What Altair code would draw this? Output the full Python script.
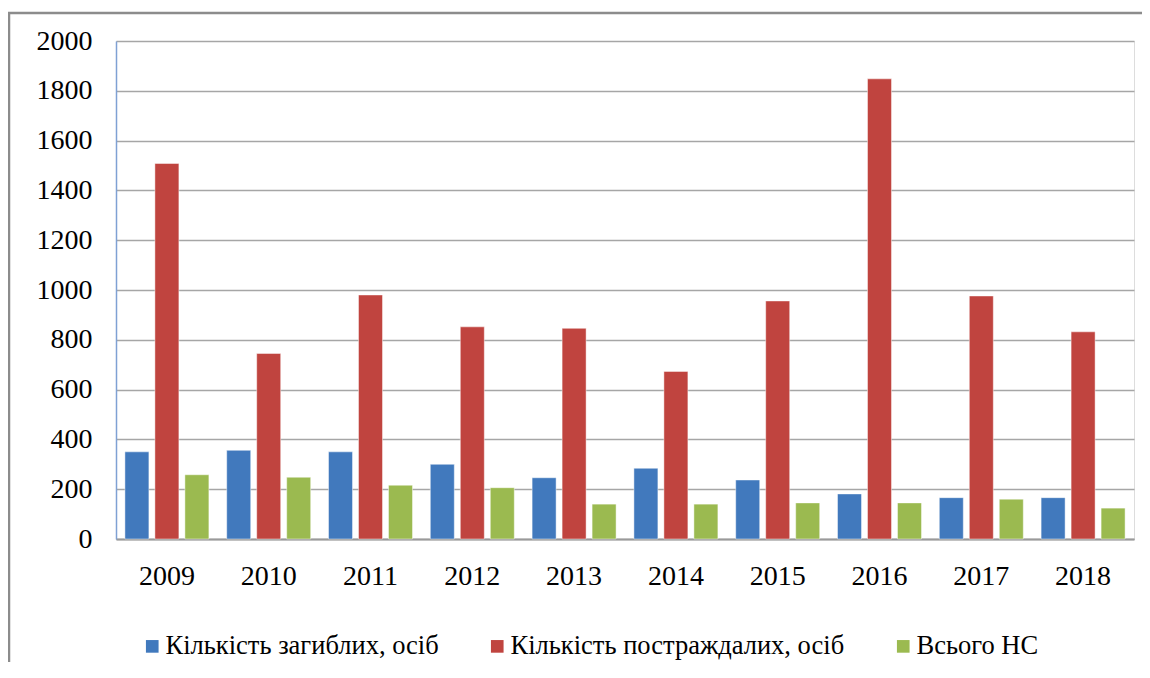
import altair as alt
import pandas as pd

years = ["2009", "2010", "2011", "2012", "2013", "2014", "2015", "2016", "2017", "2018"]
series = ["Кількість загиблих, осіб", "Кількість постраждалих, осіб", "Всього НС"]
killed = [350, 356, 350, 300, 246, 284, 237, 181, 166, 166]
injured = [1508, 745, 980, 852, 846, 673, 956, 1848, 976, 832]
total_ns = [258, 248, 216, 206, 140, 140, 145, 145, 160, 124]
colors = ["#4179BD", "#C0443F", "#9BBA50"]

rows = []
for i, y in enumerate(years):
    for s, vals in zip(series, [killed, injured, total_ns]):
        rows.append({"year": y, "series": s, "value": vals[i]})
df = pd.DataFrame(rows)

FONT = "Times New Roman, Liberation Serif, serif"

bars = alt.Chart(df).mark_bar(stroke="white", strokeOpacity=0.45, strokeWidth=1).encode(
    x=alt.X("year:N", sort=years,
            scale=alt.Scale(paddingInner=0.175, paddingOuter=0.0875),
            axis=alt.Axis(title=None, labelAngle=0, ticks=False, labelPadding=23,
                          labelFont=FONT, labelFontSize=28, labelColor="#000000",
                          domainColor="#9a9a9a", domainWidth=2, grid=False)),
    xOffset=alt.XOffset("series:N", sort=series,
                        scale=alt.Scale(paddingInner=0.2, paddingOuter=0)),
    y=alt.Y("value:Q",
            scale=alt.Scale(domain=[0, 2000], nice=False),
            axis=alt.Axis(title=None, values=list(range(0, 2001, 200)), format="d",
                          ticks=False, labelPadding=24, labelFont=FONT, labelFontSize=28,
                          labelColor="#000000", domainColor="#7FA1D4", domainWidth=1.5,
                          grid=True, gridColor="#a6a6a6", gridWidth=1.5)),
    color=alt.Color("series:N", sort=series,
                    scale=alt.Scale(domain=series, range=colors),
                    legend=alt.Legend(title=None, orient="none", direction="horizontal",
                                      legendX=23, legendY=592,
                                      symbolType="square", symbolSize=160,
                                      symbolStrokeWidth=0, labelFont=FONT,
                                      labelFontSize=26.5, labelColor="#000000",
                                      labelOffset=0, columnPadding=45,
                                      labelLimit=600)),
)

frame = alt.Chart(pd.DataFrame({"a": [0]})).mark_rect(
    fill=None, stroke="#8c8c8c", strokeWidth=2.5
).encode(
    x=alt.value(-107), x2=alt.value(1060),
    y=alt.value(-28), y2=alt.value(700),
)

chart = alt.layer(frame, bars).properties(
    width=1018, height=498,
    padding={"left": 108, "top": 33, "right": 8, "bottom": 123},
    autosize=alt.AutoSizeParams(type="none"),
).configure_view(
    stroke="#7FA1D4", strokeWidth=1.5
).configure(background="white", font=FONT)

chart.save("out.html", embed_options={"renderer": "svg", "actions": False})
